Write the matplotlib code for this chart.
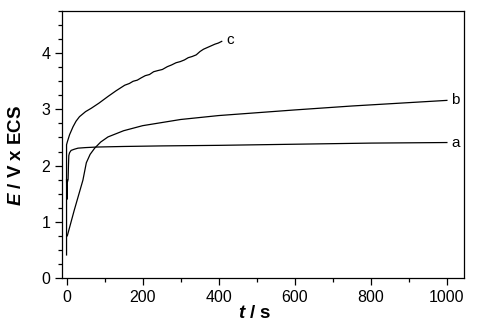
import numpy as np
import matplotlib
matplotlib.use("Agg")
import matplotlib.pyplot as plt
from matplotlib.ticker import MultipleLocator

plt.rcParams['font.family'] = ['Liberation Sans', 'DejaVu Sans']
plt.rcParams['mathtext.fontset'] = 'custom'
plt.rcParams['mathtext.rm'] = 'Liberation Sans'
plt.rcParams['mathtext.it'] = 'Liberation Sans:italic'
plt.rcParams['mathtext.bf'] = 'Liberation Sans:bold'
plt.rcParams['mathtext.bfit'] = 'Liberation Sans:italic:bold'

# curve a
t_a = [0, 1, 1.5, 2, 4, 5, 6, 8, 12, 20, 30, 50, 80, 150, 250, 400, 600, 800, 1000]
E_a = [1.75, 1.40, 1.74, 1.70, 1.75, 2.00, 2.18, 2.23, 2.27, 2.29, 2.31, 2.32, 2.33,
       2.34, 2.35, 2.36, 2.38, 2.40, 2.41]

# curve b
t_b = [2, 20, 43, 52, 62, 74, 90, 109, 150, 200, 300, 400, 500, 600, 750, 900, 1000]
E_b = [0.75, 1.20, 1.74, 2.05, 2.20, 2.31, 2.42, 2.51, 2.62, 2.71, 2.82, 2.89, 2.94,
       2.99, 3.06, 3.12, 3.16]

# curve c
t_c = [0, 0, 2, 8, 17, 25, 34, 50, 65, 85, 109, 130, 153, 165, 175, 186, 196, 207,
       218, 229, 240, 252, 265, 276, 288, 299, 310, 320, 330, 341, 351, 360, 370,
       380, 390, 399, 408]
E_c = [0.41, 2.37, 2.42, 2.55, 2.69, 2.79, 2.87, 2.96, 3.02, 3.11, 3.23, 3.33, 3.43,
       3.46, 3.50, 3.52, 3.56, 3.60, 3.62, 3.67, 3.69, 3.71, 3.76, 3.79, 3.83, 3.85,
       3.88, 3.92, 3.94, 3.97, 4.03, 4.07, 4.10, 4.13, 4.16, 4.18, 4.21]

fig = plt.figure(figsize=(4.79, 3.24), dpi=100)
ax = fig.add_axes([0.1294, 0.142, 0.8393, 0.824])

for t, E in [(t_a, E_a), (t_b, E_b), (t_c, E_c)]:
    ax.plot(t, E, color='black', lw=0.9)

ax.text(1012, 2.41, 'a', fontsize=11, va='center', ha='left')
ax.text(1012, 3.16, 'b', fontsize=11, va='center', ha='left')
ax.text(420, 4.23, 'c', fontsize=11, va='center', ha='left')

ax.set_xlim(-12, 1045)
ax.set_ylim(0, 4.75)
ax.xaxis.set_major_locator(MultipleLocator(200))
ax.xaxis.set_minor_locator(MultipleLocator(100))
ax.yaxis.set_major_locator(MultipleLocator(1))
ax.yaxis.set_minor_locator(MultipleLocator(0.25))
ax.tick_params(which='both', direction='out', top=False, right=False,
               labelsize=11.5, width=0.9)
ax.tick_params(which='major', length=5)
ax.tick_params(which='minor', length=3)
for s in ax.spines.values():
    s.set_linewidth(0.9)

ax.set_xlabel(r'$\mathbfit{t}$ / s', fontsize=13.5, fontweight='bold')
ax.set_ylabel(r'$\mathbfit{E}$ / V x ECS', fontsize=13.5, fontweight='bold')
ax.xaxis.set_label_coords(0.48, -0.1, transform=ax.transAxes)
ax.xaxis.label.set_va('top')
ax.yaxis.set_label_coords(-0.092, 0.46, transform=ax.transAxes)

fig.savefig('out.png', dpi=100)
